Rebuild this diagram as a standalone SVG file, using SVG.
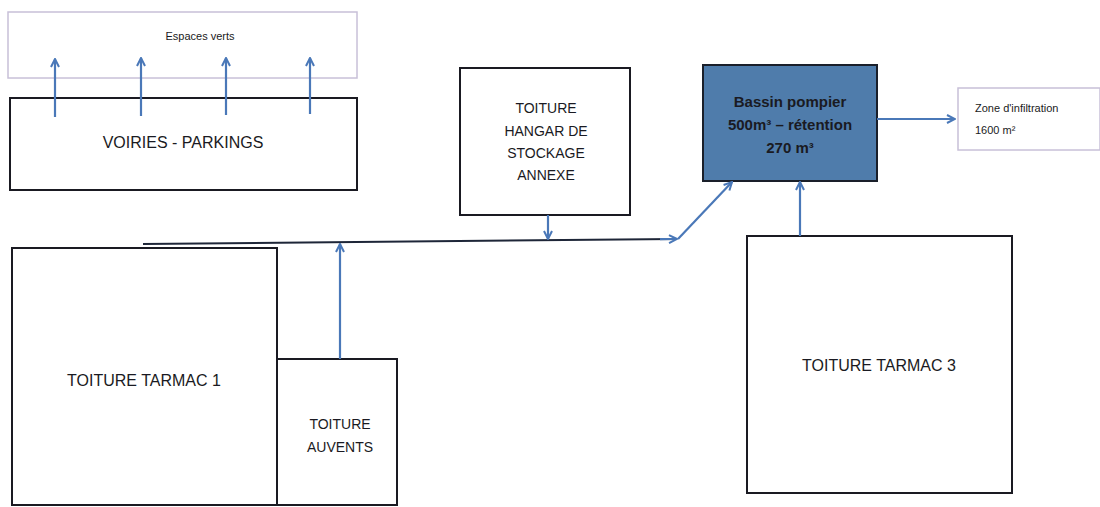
<svg xmlns="http://www.w3.org/2000/svg" width="1100" height="507" viewBox="0 0 1100 507">
<defs>
<style>
.box{fill:#ffffff;stroke:#1a1a22;stroke-width:2}
.light{fill:#ffffff;stroke:#c8c0d8;stroke-width:1.5}
.t{font-family:"Liberation Sans",Arial,sans-serif;fill:#1a1a22;text-anchor:middle}
.big{font-size:16px}
.mid{font-size:14px}
.small{font-size:11px}
.blue{stroke:#4a78b8;stroke-width:2.2;fill:none}
.dark{stroke:#1e2638;stroke-width:2;fill:none}
</style>
<marker id="ah" viewBox="0 0 10 10" refX="9" refY="5" markerWidth="10" markerHeight="11" markerUnits="userSpaceOnUse" orient="auto">
<path d="M1,1 L9,5 L1,9" fill="none" stroke="#4a78b8" stroke-width="2"/>
</marker>
</defs>
<rect width="1100" height="507" fill="#ffffff"/>
<g id="espaces-verts">
<rect class="light" x="8" y="12" width="349" height="66"/>
<text class="t small" x="200" y="40" font-size="12">Espaces verts</text>
</g>
<g id="voiries">
<rect class="box" x="10" y="98" width="347" height="92"/>
<text class="t big" x="183" y="148" font-size="16.5">VOIRIES - PARKINGS</text>
</g>
<g id="hangar">
<rect class="box" x="460" y="68" width="170" height="147"/>
<text class="t mid" x="546" y="113">TOITURE</text>
<text class="t mid" x="546" y="136">HANGAR DE</text>
<text class="t mid" x="546" y="158">STOCKAGE</text>
<text class="t mid" x="546" y="180">ANNEXE</text>
</g>
<g id="bassin">
<rect x="703" y="65" width="174" height="116" fill="#4f7cab" stroke="#1a1f2a" stroke-width="2"/>
<text class="t" x="790" y="107" font-size="15" font-weight="bold" fill="#1d2733">Bassin pompier</text>
<text class="t" x="790" y="130" font-size="15" font-weight="bold" fill="#1d2733">500m³ – rétention</text>
<text class="t" x="790" y="153" font-size="15" font-weight="bold" fill="#1d2733">270 m³</text>
</g>
<g id="zone-infiltration">
<rect class="light" x="958" y="88" width="142" height="62"/>
<text class="t small" x="975" y="112" style="text-anchor:start">Zone d'infiltration</text>
<text class="t small" x="975" y="134" style="text-anchor:start">1600 m²</text>
</g>
<g id="tarmac1">
<rect class="box" x="12" y="248" width="265" height="257"/>
<text class="t big" x="144" y="386">TOITURE  TARMAC 1</text>
</g>
<g id="auvents">
<rect class="box" x="277" y="359" width="120" height="146"/>
<text class="t mid" x="340" y="429">TOITURE</text>
<text class="t mid" x="340" y="452">AUVENTS</text>
</g>
<g id="tarmac3">
<rect class="box" x="747" y="236" width="265" height="257"/>
<text class="t big" x="879" y="371">TOITURE  TARMAC 3</text>
</g>
<g id="connectors">
<line class="blue" x1="55" y1="117" x2="55" y2="59" marker-end="url(#ah)"/>
<line class="blue" x1="141" y1="116" x2="141" y2="58" marker-end="url(#ah)"/>
<line class="blue" x1="226" y1="115" x2="226" y2="58" marker-end="url(#ah)"/>
<line class="blue" x1="310" y1="114" x2="310" y2="58" marker-end="url(#ah)"/>
<path class="dark" d="M143,244 L676,239"/>
<line class="blue" x1="660" y1="239.2" x2="677" y2="239" marker-end="url(#ah)"/>
<line class="blue" x1="548" y1="215" x2="548" y2="239" marker-end="url(#ah)"/>
<line class="blue" x1="340" y1="359" x2="340" y2="244" marker-end="url(#ah)"/>
<line class="blue" x1="678" y1="239" x2="732" y2="182" marker-end="url(#ah)"/>
<line class="blue" x1="800" y1="236" x2="800" y2="182" marker-end="url(#ah)"/>
<line class="blue" x1="877" y1="119" x2="955" y2="119" marker-end="url(#ah)"/>
</g>
</svg>
